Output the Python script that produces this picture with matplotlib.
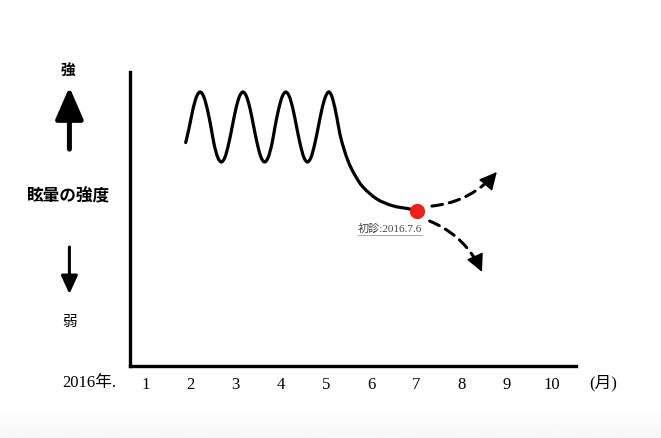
import numpy as np
import matplotlib
matplotlib.use('Agg')
from matplotlib import pyplot as plt
from matplotlib.path import Path
from matplotlib.patches import PathPatch

# month axis
months = [1, 2, 3, 4, 5, 6, 7, 8, 9, 10]

# vertigo curve (x in months, y in arbitrary intensity 0..10)
wave_x = [1.89, 1.97, 2.05, 2.13, 2.21, 2.29, 2.37, 2.45, 2.52, 2.60,
          2.68, 2.76, 2.84, 2.92, 3.00, 3.08, 3.16, 3.24, 3.32, 3.40,
          3.48, 3.56, 3.64, 3.72, 3.80, 3.87, 3.95, 4.03, 4.11, 4.19,
          4.27, 4.35, 4.43, 4.51, 4.59, 4.67, 4.75, 4.83, 4.91, 4.99,
          5.07, 5.15, 5.24, 5.31, 5.40, 5.51, 5.64, 5.82, 6.13, 6.48,
          6.86, 7.02]
wave_y = [7.60, 8.13, 8.73, 9.16, 9.32, 9.16, 8.73, 8.13, 7.54, 7.10,
          6.94, 7.10, 7.54, 8.13, 8.73, 9.16, 9.32, 9.16, 8.73, 8.13,
          7.54, 7.10, 6.94, 7.10, 7.54, 8.13, 8.73, 9.16, 9.32, 9.16,
          8.73, 8.13, 7.54, 7.10, 6.94, 7.10, 7.54, 8.13, 8.73, 9.16,
          9.32, 9.08, 8.47, 7.89, 7.38, 6.90, 6.50, 6.09, 5.68, 5.45,
          5.34, 5.27]

# first visit
visit_x = 7.02
visit_y = 5.27
visit_label = '初診:2016.7.6'

# possible courses after the first visit: (start, end, bend)
courses = [((7.35, 5.44), (8.79, 6.60), 0.2),
           ((7.30, 4.93), (8.46, 3.20), -0.2)]

jp = ['Noto Sans CJK JP', 'DejaVu Sans']
serif_jp = ['Liberation Serif', 'Noto Sans CJK JP']


def smooth_path(xs, ys):
    # catmull-rom through the read points, drawn as cubic bezier segments
    pts = list(zip(xs, ys))
    verts = [pts[0]]
    codes = [Path.MOVETO]
    for i in range(len(pts) - 1):
        p0 = np.array(pts[max(i - 1, 0)])
        p1 = np.array(pts[i])
        p2 = np.array(pts[i + 1])
        p3 = np.array(pts[min(i + 2, len(pts) - 1)])
        verts += [tuple(p1 + (p2 - p0) / 6), tuple(p2 - (p3 - p1) / 6), tuple(p2)]
        codes += [Path.CURVE4] * 3
    return Path(verts, codes)


fig = plt.figure(figsize=(6.61, 4.39), dpi=100)

# faint grey fade at the very bottom of the page
bg = fig.add_axes([0, 0, 1, 0.07], zorder=-5)
bg.imshow(np.linspace(1.0, 0.968, 50).reshape(-1, 1), cmap='gray', vmin=0, vmax=1,
          aspect='auto', extent=[0, 1, 0, 1])
bg.axis('off')

ax = fig.add_axes([0.1967, 0.164, 0.6743, 0.6697])
ax.set_xlim(0.655, 10.54)
ax.set_ylim(0, 10)
ax.patch.set_alpha(0)

ax.add_patch(PathPatch(smooth_path(wave_x, wave_y), fill=False, color='black',
                       lw=2.3, capstyle='round', zorder=3))
ax.plot(visit_x, visit_y, 'o', color='#ec2219', ms=10, zorder=4)

# dashed arrows: dashed body + solid head
head_px = 16
for start, end, rad in courses:
    s = ax.transData.transform(start)
    e = ax.transData.transform(end)
    d = e - s
    ctrl = (s + e) / 2 + rad * np.array([d[1], -d[0]])
    t = (e - ctrl) / np.hypot(*(e - ctrl))
    base = ax.transData.inverted().transform(e - t * head_px)
    ax.annotate('', xy=end, xytext=start,
                arrowprops=dict(arrowstyle='-', color='black', lw=2.2,
                                linestyle=(0, (3.5, 2.3)), shrinkA=0, shrinkB=9,
                                connectionstyle='arc3,rad=%s' % rad))
    ax.annotate('', xy=end, xytext=base,
                arrowprops=dict(arrowstyle='-|>,head_length=1.1,head_width=0.55',
                                mutation_scale=10, color='black', lw=1,
                                shrinkA=0, shrinkB=0))

note = ax.text(visit_x - 0.6, visit_y - 0.58, visit_label, fontsize=8,
               family=serif_jp, color='#444444', ha='center', va='center')

ax.set_xticks(months)
ax.set_xticklabels([str(m) for m in months], family='Liberation Serif', fontsize=12)
ax.set_yticks([])
ax.tick_params(axis='x', length=0, pad=7)
for side in ['top', 'right']:
    ax.spines[side].set_visible(False)
for side in ['left', 'bottom']:
    ax.spines[side].set_linewidth(2.4)
    ax.spines[side].set_capstyle('projecting')

# y axis legend on the left
fig.text(0.103, 0.841, '強', family=jp, fontsize=10.5, fontweight='bold',
         ha='center', va='center')
fig.text(0.103, 0.5535, '眩暈の強度', family=jp, fontsize=12, fontweight='bold',
         ha='center', va='center')
fig.text(0.106, 0.2665, '弱', family=jp, fontsize=10.5, ha='center', va='center')
ax.annotate('', xy=(0.105, 0.7995), xytext=(0.105, 0.658),
            xycoords='figure fraction', textcoords='figure fraction',
            arrowprops=dict(arrowstyle='-|>,head_length=1.95,head_width=0.85',
                            mutation_scale=10, color='black', lw=3.6,
                            shrinkA=0, shrinkB=0))
ax.annotate('', xy=(0.105, 0.328), xytext=(0.105, 0.435),
            xycoords='figure fraction', textcoords='figure fraction',
            arrowprops=dict(arrowstyle='-|>,head_length=1.1,head_width=0.5',
                            mutation_scale=10, color='black', lw=2.2,
                            shrinkA=0, shrinkB=0))

fig.text(0.1346, 0.128, '2016年.', family=serif_jp, fontsize=12, ha='center', va='center')
fig.text(0.912, 0.128, '(月)', family=serif_jp, fontsize=12, ha='center', va='center')

# underline the first-visit note
fig.canvas.draw()
bb = note.get_window_extent().transformed(ax.transData.inverted())
ax.plot([bb.x0, bb.x1], [bb.y0 - 0.05, bb.y0 - 0.05], color='#999999', lw=0.6)

fig.savefig('out.png', dpi=100)
